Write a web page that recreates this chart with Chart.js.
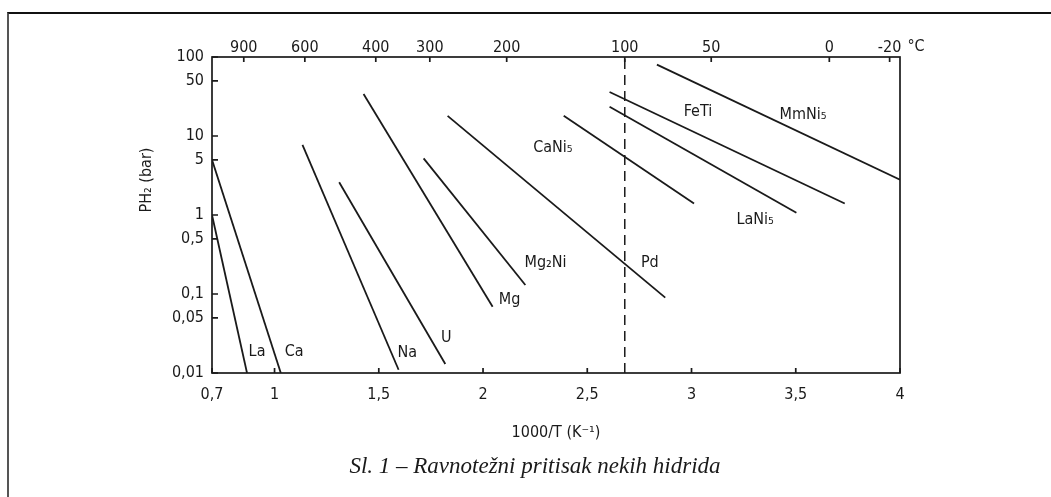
<!DOCTYPE html>
<html lang="sr">
<head>
<meta charset="UTF-8">
<title>Ravnotežni pritisak nekih hidrida</title>
<script src="https://cdn.jsdelivr.net/npm/chart.js"></script>
<style>
  html, body { margin: 0; padding: 0; background: #fff; }
  .frame { position: absolute; left: 7px; top: 12px; width: 1100px; height: 520px;
           border-top: 2px solid #111; border-left: 2px solid #555; }
  .wrap { position: absolute; left: 0; top: 0; width: 1051px; height: 497px; }
</style>
</head>
<body>
<div class="frame"></div>
<div class="wrap"><canvas id="chart"></canvas></div>
<script>
// 1000/T (K^-1) against equilibrium pressure (bar)
const laX = [0.7, 0.868],     laP = [1.0, 0.01];
const caX = [0.7, 1.03],      caP = [5.0, 0.01];
const naX = [1.134, 1.595],   naP = [7.7, 0.011];
const uX = [1.31, 1.819],     uP = [2.6, 0.013];
const mgX = [1.427, 2.046],   mgP = [34, 0.069];
const mg2niX = [1.715, 2.203], mg2niP = [5.2, 0.13];
const pdX = [1.83, 2.874],    pdP = [18, 0.09];
const cani5X = [2.387, 3.012], cani5P = [18, 1.4];
const lani5X = [2.607, 3.503], lani5P = [23.5, 1.07];
const fetiX = [2.607, 3.735], fetiP = [36, 1.4];
const mmni5X = [2.834, 4.0],  mmni5P = [80, 2.8];

const xTicks = [0.7, 1, 1.5, 2, 2.5, 3, 3.5, 4];
const xTickLabels = ['0,7', '1', '1,5', '2', '2,5', '3', '3,5', '4'];
const yTicks = [0.01, 0.05, 0.1, 0.5, 1, 5, 10, 50, 100];
const yTickLabels = ['0,01', '0,05', '0,1', '0,5', '1', '5', '10', '50', '100'];
const tempC = [900, 600, 400, 300, 200, 100, 50, 0, -20];
const tempLabels = ['900', '600', '400', '300', '200', '100', '50', '0', '-20'];

const pdLineC = 100; // dashed line at 100 °C

const SANS = "'Liberation Sans Narrow', 'DejaVu Sans Condensed', 'Liberation Sans', sans-serif";
const INK = '#1a1a1a';

function pts(xs, ys) { return xs.map((x, i) => ({ x: x, y: ys[i] })); }
function inv(c) { return 1000 / (c + 273.15); }

const series = [
  ['La', laX, laP], ['Ca', caX, caP], ['Na', naX, naP], ['U', uX, uP],
  ['Mg', mgX, mgP], ['Mg2Ni', mg2niX, mg2niP], ['Pd', pdX, pdP],
  ['CaNi5', cani5X, cani5P], ['LaNi5', lani5X, lani5P],
  ['FeTi', fetiX, fetiP], ['MmNi5', mmni5X, mmni5P]
];

const datasets = series.map(s => ({
  label: s[0], data: pts(s[1], s[2]),
  borderColor: INK, borderWidth: 1.8, pointRadius: 0, fill: false, tension: 0
}));
datasets.push({
  label: '100 °C', data: pts([inv(pdLineC), inv(pdLineC)], [0.01, 100]),
  borderColor: INK, borderWidth: 1.5, borderDash: [10, 6], pointRadius: 0
});

// text labels next to the lines, in data units
const lineNames = [
  ['La', 0.916, 0.0185], ['Ca', 1.094, 0.0185], ['Na', 1.637, 0.018],
  ['U', 1.824, 0.028], ['Mg', 2.127, 0.084], ['Mg₂Ni', 2.30, 0.25],
  ['Pd', 2.80, 0.25], ['CaNi₅', 2.335, 7.0], ['FeTi', 3.031, 20],
  ['MmNi₅', 3.535, 18.4], ['LaNi₅', 3.305, 0.86]
];

const decor = {
  id: 'decor',
  afterDatasetsDraw(chart) {
    const { ctx, chartArea: a, scales } = chart;
    ctx.save();
    ctx.strokeStyle = INK;
    ctx.lineWidth = 1.7;
    ctx.strokeRect(a.left, a.top, a.right - a.left, a.bottom - a.top);
    ctx.beginPath();
    scales.x.ticks.forEach(t => {
      const p = scales.x.getPixelForValue(t.value);
      ctx.moveTo(p, a.bottom); ctx.lineTo(p, a.bottom - 5);
    });
    scales.x2.ticks.forEach(t => {
      const p = scales.x2.getPixelForValue(t.value);
      ctx.moveTo(p, a.top); ctx.lineTo(p, a.top + 5);
    });
    scales.y.ticks.forEach(t => {
      const p = scales.y.getPixelForValue(t.value);
      ctx.moveTo(a.left, p); ctx.lineTo(a.left + 6, p);
    });
    ctx.stroke();

    ctx.fillStyle = INK;
    ctx.font = '16px ' + SANS;
    ctx.textAlign = 'center';
    ctx.textBaseline = 'middle';
    lineNames.forEach(n => {
      ctx.fillText(n[0], scales.x.getPixelForValue(n[1]), scales.y.getPixelForValue(n[2]));
    });
    ctx.fillText('°C', a.right + 16, a.top - 10);

    // y axis title
    ctx.save();
    ctx.translate(147, 180);
    ctx.rotate(-Math.PI / 2);
    ctx.fillText('PH₂ (bar)', 0, 0);
    ctx.restore();

    ctx.font = 'italic 23px "Liberation Serif", "DejaVu Serif", serif';
    ctx.fillText('Sl. 1 – Ravnotežni pritisak nekih hidrida', 535, 467);
    ctx.restore();
  }
};

const tickFont = { family: SANS, size: 16 };

new Chart(document.getElementById('chart'), {
  type: 'line',
  data: { datasets: datasets },
  options: {
    responsive: true,
    maintainAspectRatio: false,
    animation: false,
    layout: { padding: { left: 0, top: 0, right: 151, bottom: 0 } },
    plugins: { legend: { display: false }, tooltip: { enabled: false } },
    scales: {
      x: {
        type: 'linear', position: 'bottom', min: 0.7, max: 4,
        grid: { display: false },
        border: { display: false },
        afterBuildTicks: s => { s.ticks = xTicks.map(v => ({ value: v })); },
        afterFit: s => { s.height = 124; },
        ticks: {
          autoSkip: false, maxRotation: 0, padding: 4, color: INK, font: tickFont,
          callback: (v, i) => xTickLabels[i]
        },
        title: {
          display: true, text: '1000/T (K⁻¹)', color: INK,
          font: { family: SANS, size: 16 }, padding: { top: 0, bottom: 55 }
        }
      },
      x2: {
        type: 'linear', position: 'top', min: 0.7, max: 4,
        grid: { display: false },
        border: { display: false },
        afterBuildTicks: s => { s.ticks = tempC.map(c => ({ value: inv(c) })); },
        afterFit: s => { s.height = 57; },
        ticks: {
          autoSkip: false, maxRotation: 0, padding: -8, color: INK, font: tickFont,
          callback: (v, i) => tempLabels[i]
        }
      },
      y: {
        type: 'logarithmic', position: 'left', min: 0.01, max: 100,
        grid: { display: false },
        border: { display: false },
        afterBuildTicks: s => { s.ticks = yTicks.map(v => ({ value: v })); },
        afterFit: s => { s.width = 212; },
        ticks: {
          autoSkip: false, padding: 0, color: INK, font: tickFont,
          callback: (v, i) => yTickLabels[i]
        }
      }
    }
  },
  plugins: [decor]
});
</script>
</body>
</html>
